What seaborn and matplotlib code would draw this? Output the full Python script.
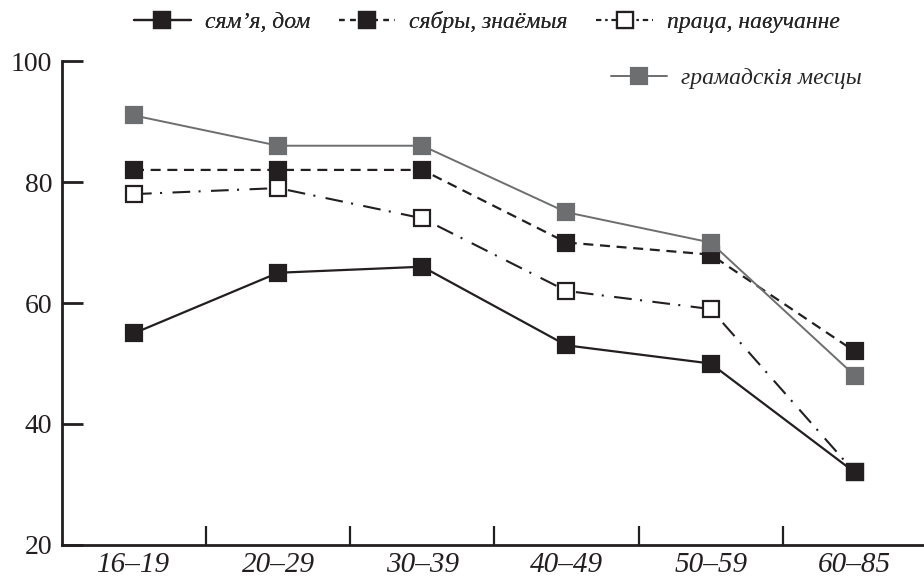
import seaborn as sns
import pandas as pd
from matplotlib import pyplot as plt
import matplotlib.ticker as mtick
from matplotlib.lines import Line2D

# age groups and shares (%)
age_groups = ['16–19', '20–29', '30–39', '40–49', '50–59', '60–85']
family_home = [55, 65, 66, 53, 50, 32]
neighbours = [82, 82, 82, 70, 68, 52]
work_study = [78, 79, 74, 62, 59, 32]
public_places = [91, 86, 86, 75, 70, 48]

labels = ['сям’я, дом', 'сябры, знаёмыя', 'праца, навучанне', 'грамадскія месцы']

sns.set_style('white')
plt.rcParams['font.family'] = ['Liberation Serif', 'DejaVu Serif']
plt.rcParams['font.size'] = 17

BLACK = '#231f20'
GREY = '#6d6e70'


def draw_series(ax, values, color, ls, mfc, mec, lw, z):
    df = pd.DataFrame({'age': age_groups, 'value': values})
    sns.lineplot(data=df, x='age', y='value', ax=ax, color=color, linestyle=ls,
                 linewidth=lw, marker='s', markersize=12, markerfacecolor=mfc,
                 markeredgecolor=mec, markeredgewidth=1.6, zorder=z,
                 errorbar=None, sort=False)


def main():
    fig = plt.figure(figsize=(9.24, 5.84), dpi=100)
    ax = fig.add_axes([0.067, 0.0668, 0.933, 0.8287])

    dashed = (0, (4.5, 3))
    dashdot = (0, (8.5, 4, 1, 5))

    draw_series(ax, work_study, BLACK, dashdot, 'white', BLACK, 1.5, 2)
    draw_series(ax, family_home, BLACK, '-', BLACK, BLACK, 1.6, 3)
    draw_series(ax, neighbours, BLACK, dashed, BLACK, BLACK, 1.6, 4)
    draw_series(ax, public_places, GREY, '-', GREY, GREY, 1.4, 5)

    ax.set_ylim(20, 100)
    ax.set_xlim(-0.5, 5.48)
    ax.set_xlabel('')
    ax.set_ylabel('')

    for side in ['top', 'right']:
        ax.spines[side].set_visible(False)
    for side in ['left', 'bottom']:
        ax.spines[side].set_color(BLACK)
        ax.spines[side].set_linewidth(2)

    ax.yaxis.set_major_locator(mtick.FixedLocator([20, 40, 60, 80, 100]))
    ax.tick_params(axis='y', direction='in', length=15, width=2, color=BLACK,
                   labelsize=20, pad=7, labelcolor=BLACK, left=True)

    # boundary ticks between groups, labels at group centres
    ax.xaxis.set_major_locator(mtick.FixedLocator([0.5, 1.5, 2.5, 3.5, 4.5]))
    ax.xaxis.set_major_formatter(mtick.NullFormatter())
    ax.xaxis.set_minor_locator(mtick.FixedLocator(range(len(age_groups))))
    ax.xaxis.set_minor_formatter(mtick.FixedFormatter(age_groups))
    ax.tick_params(axis='x', which='major', direction='in', length=14, width=1.6,
                   color=BLACK, bottom=True)
    ax.tick_params(axis='x', which='minor', length=0, labelsize=21, pad=5,
                   labelcolor=BLACK, bottom=True)
    for t in ax.xaxis.get_minorticklabels():
        t.set_fontstyle('italic')

    def handle(color, ls, mfc, lw):
        return Line2D([], [], color=color, linestyle=ls, linewidth=lw, marker='s',
                      markersize=12, markerfacecolor=mfc, markeredgecolor=color,
                      markeredgewidth=1.6)

    top_handles = [handle(BLACK, '-', BLACK, 1.6),
                   handle(BLACK, (0, (2.5, 2.5)), BLACK, 1.6),
                   handle(BLACK, (0, (2.5, 2, 1, 2)), 'white', 1.5)]
    leg1 = fig.legend(top_handles, labels[:3], loc='center', bbox_to_anchor=(0.527, 0.962),
                      ncol=3, frameon=False, handlelength=2.4, handletextpad=0.6,
                      columnspacing=1.2, prop={'style': 'italic', 'size': 17})
    fig.legend([handle(GREY, '-', GREY, 1.4)], labels[3:], loc='center',
               bbox_to_anchor=(0.797, 0.866), frameon=False, handlelength=2.4,
               handletextpad=0.6, prop={'style': 'italic', 'size': 17})
    fig.add_artist(leg1)

    fig.savefig('out.png', dpi=100)


if __name__ == '__main__':
    main()
